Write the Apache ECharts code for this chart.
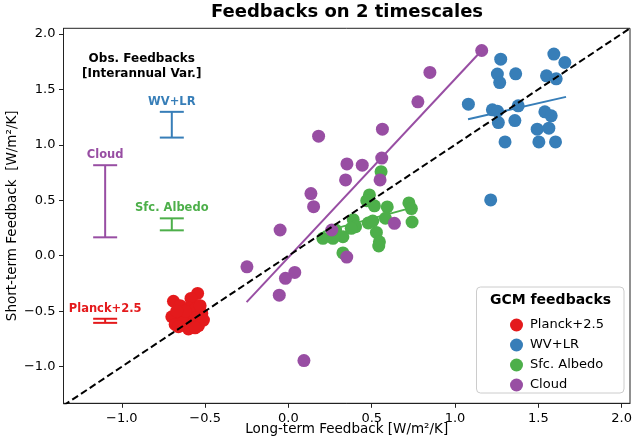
<!DOCTYPE html>
<html>
<head>
<meta charset="utf-8">
<script src="https://cdn.jsdelivr.net/npm/echarts@6/dist/echarts.min.js"></script>
<style>html,body{margin:0;padding:0;background:#fff}#c{width:634px;height:441px}</style>
</head>
<body>
<div id="c"></div>
<script>
// ---- data ----
const seriesNames = ['Planck+2.5', 'WV+LR', 'Sfc. Albedo', 'Cloud'];
const seriesColors = ['#e41a1c', '#377eb8', '#4daf4a', '#984ea3'];

const planckPts = [
  [-0.545,-0.34],[-0.585,-0.385],[-0.690,-0.41],[-0.650,-0.45],[-0.600,-0.47],[-0.560,-0.48],
  [-0.520,-0.52],[-0.700,-0.55],[-0.640,-0.53],[-0.600,-0.55],[-0.560,-0.56],[-0.510,-0.58],
  [-0.680,-0.62],[-0.630,-0.60],[-0.580,-0.62],[-0.540,-0.63],[-0.600,-0.66],[-0.660,-0.64],
  [-0.560,-0.65],[-0.620,-0.50],[-0.670,-0.50],[-0.530,-0.45]
];
const wvlrPts = [
  [1.274,1.772],[1.593,1.818],[1.659,1.742],[1.254,1.637],[1.268,1.561],[1.364,1.640],
  [1.549,1.622],[1.607,1.595],[1.080,1.366],[1.224,1.315],[1.254,1.303],[1.379,1.351],
  [1.260,1.200],[1.359,1.218],[1.539,1.297],[1.577,1.261],[1.493,1.141],[1.563,1.150],
  [1.300,1.026],[1.503,1.026],[1.603,1.026],[1.214,0.503]
];
const albedoPts = [
  [0.556,0.758],[0.486,0.548],[0.470,0.496],[0.516,0.450],[0.593,0.440],[0.723,0.476],
  [0.738,0.425],[0.582,0.338],[0.742,0.304],[0.389,0.325],[0.403,0.262],[0.479,0.295],
  [0.506,0.313],[0.528,0.210],[0.546,0.126],[0.542,0.088],[0.283,0.232],[0.327,0.171],
  [0.207,0.157],[0.267,0.157],[0.327,0.025],[0.377,0.247]
];
const cloudPts = [
  [1.160,1.850],[0.849,1.652],[0.777,1.387],[0.181,1.078],[0.564,1.141],[0.560,0.880],
  [0.351,0.828],[0.443,0.816],[0.343,0.683],[0.550,0.683],[0.135,0.560],[0.151,0.442],
  [-0.050,0.232],[0.260,0.232],[0.636,0.292],[0.350,-0.012],[0.038,-0.150],[-0.018,-0.204],
  [-0.055,-0.355],[-0.249,-0.100],[0.093,-0.945]
];
// regression line end points
const wvlrFit = [[1.078,1.231],[1.666,1.432]];
const albedoFit = [[0.207,0.215],[0.742,0.434]];
const cloudFit = [[-0.251,-0.418],[1.160,1.850]];
const oneToOne = [[-1.35,-1.35],[2.05,2.05]];

// observed feedback ranges
const obsNames = ['Planck+2.5', 'WV+LR', 'Sfc. Albedo', 'Cloud'];
const obsX = [-1.1, -0.7, -0.7, -1.1];
const obsLow = [-0.605, 1.065, 0.229, 0.166];
const obsHigh = [-0.568, 1.297, 0.337, 0.816];

const tickVals = [-1.0, -0.5, 0.0, 0.5, 1.0, 1.5, 2.0];
const xMin = -1.35, xMax = 2.05, yMin = -1.33, yMax = 2.05;

// ---- chart ----
const FONT = 'DejaVu Sans';
const fmt = v => (v < 0 ? '\u2212' : '') + Math.abs(v).toFixed(1);
const chart = echarts.init(document.getElementById('c'));

const scatterSeries = [planckPts, wvlrPts, albedoPts, cloudPts].map((pts, i) => ({
  name: seriesNames[i], type: 'scatter', data: pts, symbolSize: 13, z: 3,
  itemStyle: { color: seriesColors[i], opacity: 1 }, emphasis: { disabled: true }
}));
const fitSeries = [[wvlrFit, 1], [albedoFit, 2], [cloudFit, 3]].map(([d, i]) => ({
  name: seriesNames[i] + ' fit', type: 'line', data: d, symbol: 'none', z: 2,
  lineStyle: { color: seriesColors[i], width: 2 }, silent: true
}));

const obsData = obsX.map((x, i) => [x, obsLow[i], obsHigh[i], i]);

chart.setOption({
  animation: false,
  textStyle: { fontFamily: FONT },
  grid: { left: 63.5, top: 28.3, width: 566.5, height: 375, show: true,
          containLabel: false, outerBoundsMode: 'none',
          borderColor: '#222', borderWidth: 1, backgroundColor: 'transparent' },
  xAxis: {
    type: 'value', min: xMin, max: xMax,
    name: 'Long-term Feedback [W/m²/K]', nameLocation: 'middle', nameGap: 19, nameMoveOverlap: false,
    nameTextStyle: { fontFamily: FONT, fontSize: 13.5, color: '#000', verticalAlign: 'top' },
    axisLine: { show: true, onZero: false, lineStyle: { color: '#222', width: 1 } },
    axisTick: { show: true, customValues: tickVals, length: 4.5, inside: false, lineStyle: { color: '#222' } },
    axisLabel: { customValues: tickVals, formatter: fmt, fontFamily: FONT, fontSize: 13, color: '#000', margin: 9 },
    splitLine: { show: false }
  },
  yAxis: {
    type: 'value', min: yMin, max: yMax,
    name: 'Short-term Feedback  [W/m²/K]', nameLocation: 'middle', nameGap: 44, nameMoveOverlap: false,
    nameTextStyle: { fontFamily: FONT, fontSize: 13.5, color: '#000' },
    axisLine: { show: true, onZero: false, lineStyle: { color: '#222', width: 1 } },
    axisTick: { show: true, customValues: tickVals, length: 4.5, inside: false, lineStyle: { color: '#222' } },
    axisLabel: { customValues: tickVals, formatter: fmt, fontFamily: FONT, fontSize: 13, color: '#000', margin: 8 },
    splitLine: { show: false }
  },
  legend: {
    data: seriesNames, orient: 'vertical', left: 505, top: 313.5,
    icon: 'circle', itemWidth: 13, itemHeight: 13, itemGap: 7,
    textStyle: { fontFamily: FONT, fontSize: 13, color: '#000', padding: [0, 0, 0, 2] },
    selectedMode: false, z: 20
  },
  graphic: [
    { type: 'text', x: 347, y: 12, style: { text: 'Feedbacks on 2 timescales',
      font: 'bold 18px ' + FONT, fill: '#000', textAlign: 'center', textVerticalAlign: 'middle' } },
    { type: 'text', x: 141.7, y: 59, style: { text: 'Obs. Feedbacks', font: 'bold 12px ' + FONT,
      fill: '#000', textAlign: 'center', textVerticalAlign: 'middle' } },
    { type: 'text', x: 141.7, y: 73.5, style: { text: '[Interannual Var.]', font: 'bold 12px ' + FONT,
      fill: '#000', textAlign: 'center', textVerticalAlign: 'middle' } },
    { type: 'rect', shape: { x: 476.5, y: 287, width: 147.5, height: 106, r: 4 }, z: 15,
      style: { fill: 'rgba(255,255,255,0.85)', stroke: '#cccccc', lineWidth: 1 } },
    { type: 'text', x: 550.5, y: 300, z: 16, style: { text: 'GCM feedbacks', font: 'bold 14px ' + FONT,
      fill: '#000', textAlign: 'center', textVerticalAlign: 'middle' } }
  ],
  series: [
    ...fitSeries,
    ...scatterSeries,
    {
      name: 'one-to-one', type: 'line', data: oneToOne, symbol: 'none', z: 5, silent: true,
      lineStyle: { color: '#000', width: 2, type: [7, 3.5] }
    },
    {
      name: 'obs', type: 'custom', data: obsData, z: 4, silent: true,
      renderItem: function (params, api) {
        const i = api.value(3);
        const col = seriesColors[i];
        const top = api.coord([api.value(0), api.value(2)]);
        const bot = api.coord([api.value(0), api.value(1)]);
        const w = 12;
        const st = { stroke: col, lineWidth: 2 };
        return { type: 'group', children: [
          { type: 'line', shape: { x1: top[0], y1: top[1], x2: bot[0], y2: bot[1] }, style: st },
          { type: 'line', shape: { x1: top[0] - w, y1: top[1], x2: top[0] + w, y2: top[1] }, style: st },
          { type: 'line', shape: { x1: bot[0] - w, y1: bot[1], x2: bot[0] + w, y2: bot[1] }, style: st },
          { type: 'text', style: { text: obsNames[i], x: top[0], y: top[1] - 10, textAlign: 'center',
            textVerticalAlign: 'middle', fill: col, font: 'bold 11.5px ' + FONT } }
        ] };
      }
    }
  ]
});
</script>
</body>
</html>
